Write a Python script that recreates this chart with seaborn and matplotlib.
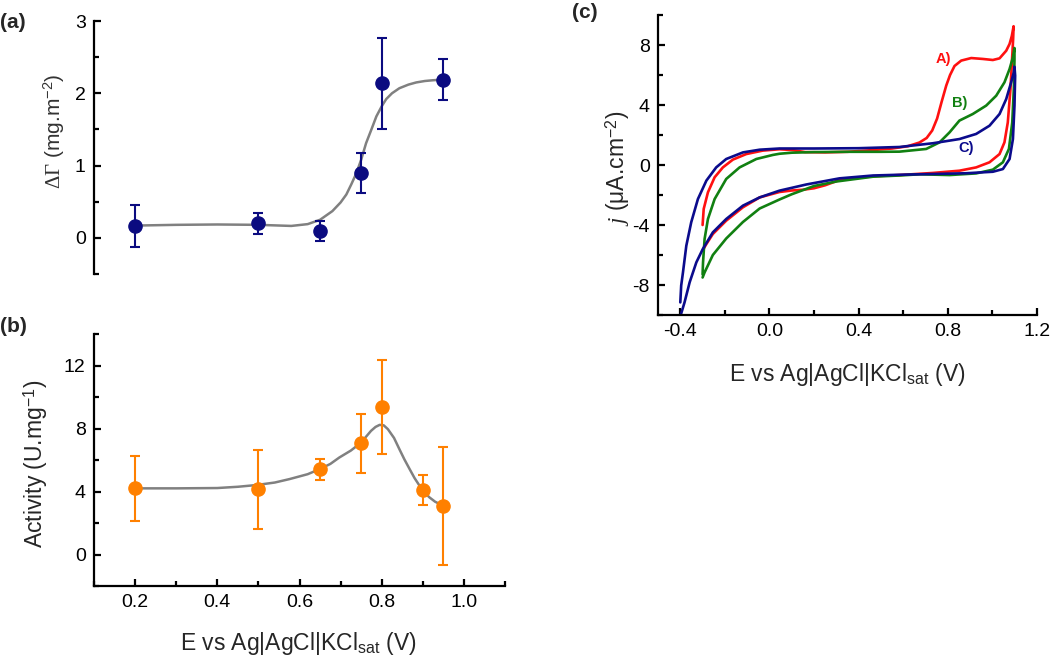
import numpy as np
import pandas as pd
import matplotlib
matplotlib.use("Agg")
import matplotlib.pyplot as plt
from matplotlib.ticker import MultipleLocator, FormatStrFormatter
import seaborn as sns

# ---------------- data ----------------
# (a) adsorbed amount vs potential
a_E = [0.2, 0.5, 0.65, 0.75, 0.8, 0.95]
a_val = [0.17, 0.20, 0.10, 0.90, 2.14, 2.19]
a_err = [0.29, 0.14, 0.14, 0.28, 0.63, 0.28]
fit_a_E = [0.2, 0.3, 0.4, 0.5, 0.58, 0.62, 0.65, 0.68, 0.70, 0.714, 0.726, 0.738, 0.75,
           0.762, 0.775, 0.787, 0.80, 0.811, 0.825, 0.843, 0.865, 0.884, 0.905, 0.924, 0.95]
fit_a_val = [0.17, 0.18, 0.185, 0.18, 0.165, 0.19, 0.25, 0.37, 0.49, 0.60, 0.74, 0.89, 1.08,
             1.31, 1.50, 1.68, 1.82, 1.92, 2.0, 2.07, 2.12, 2.15, 2.17, 2.18, 2.19]

# (b) activity vs potential
b_E = [0.2, 0.5, 0.65, 0.75, 0.8, 0.9, 0.95]
b_val = [4.2, 4.14, 5.4, 7.05, 9.35, 4.11, 3.08]
b_err = [2.06, 2.5, 0.65, 1.85, 3.0, 0.96, 3.74]
fit_b_E = [0.2, 0.3, 0.4, 0.45, 0.495, 0.54, 0.576, 0.62, 0.649, 0.675, 0.697, 0.725, 0.75,
           0.774, 0.785, 0.795, 0.805, 0.815, 0.83, 0.843, 0.855, 0.868, 0.88, 0.892,
           0.904, 0.916, 0.93, 0.941, 0.95]
fit_b_val = [4.2, 4.2, 4.22, 4.3, 4.41, 4.57, 4.79, 5.1, 5.42, 5.75, 6.16, 6.6, 7.11,
             7.85, 8.1, 8.23, 8.2, 7.96, 7.4, 6.69, 6.05, 5.42, 4.85, 4.37,
             3.95, 3.63, 3.35, 3.21, 3.1]

# (c) cyclic voltammograms
cvA_E = [-0.30, -0.295, -0.276, -0.246, -0.209, -0.164, -0.104, -0.03, 0.045, 0.10, 0.16, 0.25,
         0.35, 0.45, 0.55, 0.62, 0.673, 0.705, 0.73, 0.752, 0.772, 0.793, 0.81, 0.830, 0.860,
         0.905, 0.957, 1.002, 1.032, 1.062, 1.077, 1.087, 1.095,
         1.093, 1.089, 1.081, 1.069, 1.054, 1.032, 0.987, 0.927, 0.852, 0.733, 0.583, 0.464,
         0.314, 0.25, 0.2, 0.15, 0.10, 0.045, -0.044, -0.119, -0.194, -0.254, -0.283, -0.30]
cvA_j = [-4.0, -2.93, -1.82, -0.82, -0.16, 0.36, 0.73, 0.96, 1.05, 1.0, 0.86, 0.84,
         0.88, 0.98, 1.1, 1.25, 1.5, 1.8, 2.3, 3.1, 4.2, 5.3, 6.0, 6.6, 6.96,
         7.13, 7.07, 7.0, 7.11, 7.62, 8.07, 8.6, 9.25,
         8.4, 7.29, 5.07, 2.84, 1.51, 0.73, 0.18, -0.16, -0.38, -0.53, -0.67, -0.75,
         -1.0, -1.35, -1.55, -1.65, -1.7, -1.8, -2.16, -2.82, -3.71, -4.6, -5.27, -5.7]

cvB_E = [-0.30, -0.298, -0.291, -0.276, -0.246, -0.194, -0.134, -0.059, 0.015, 0.045, 0.10,
         0.20, 0.35, 0.50, 0.583, 0.703, 0.763, 0.808, 0.852, 0.912, 0.972, 1.017, 1.054,
         1.077, 1.092, 1.099,
         1.099, 1.096, 1.089, 1.074, 1.047, 1.002, 0.927, 0.808, 0.673, 0.583, 0.464,
         0.30, 0.20, 0.10, 0.045, -0.044, -0.119, -0.194, -0.254, -0.291, -0.30]
cvB_j = [-7.3, -6.49, -4.93, -3.6, -2.27, -0.93, -0.16, 0.4, 0.67, 0.75, 0.82,
         0.86, 0.88, 0.88, 0.89, 1.07, 1.51, 2.18, 2.96, 3.4, 3.96, 4.62, 5.51,
         6.4, 7.18, 7.8,
         7.0, 5.07, 2.84, 1.07, 0.18, -0.31, -0.56, -0.67, -0.62, -0.7, -0.78,
         -1.1, -1.4, -1.95, -2.3, -2.9, -3.8, -4.9, -6.0, -7.16, -7.5]

cvC_E = [-0.40, -0.396, -0.388, -0.373, -0.351, -0.321, -0.283, -0.239, -0.194, -0.119, -0.044,
         0.045, 0.20, 0.40, 0.583, 0.733, 0.852, 0.927, 0.987, 1.032, 1.062, 1.084, 1.096, 1.099,
         1.102, 1.099, 1.092, 1.077, 1.047, 1.002, 0.882, 0.733, 0.583, 0.464, 0.314, 0.165,
         0.045, -0.044, -0.119, -0.194, -0.254, -0.299, -0.328, -0.358, -0.381, -0.40]
cvC_j = [-9.16, -8.04, -7.16, -5.38, -3.82, -2.27, -1.04, -0.16, 0.4, 0.84, 1.02,
         1.1, 1.1, 1.12, 1.2, 1.45, 1.73, 2.07, 2.62, 3.4, 4.4, 5.51, 6.18, 6.55,
         5.96, 3.96, 1.73, 0.4, -0.27, -0.45, -0.55, -0.6, -0.65, -0.7, -0.89, -1.3,
         -1.71, -2.16, -2.71, -3.6, -4.49, -5.6, -6.49, -7.82, -9.16, -10.1]

cv_labels = ["A)", "B)", "C)"]
cv_label_E = [0.778, 0.853, 0.882]
cv_label_j = [7.1, 4.13, 1.11]

# ---------------- style ----------------
sns.set_theme(style="ticks")
plt.rcParams["font.family"] = ["Liberation Sans", "DejaVu Sans"]
plt.rcParams["axes.unicode_minus"] = False
plt.rcParams["mathtext.fontset"] = "custom"
plt.rcParams["mathtext.rm"] = "Liberation Sans"
plt.rcParams["mathtext.it"] = "Liberation Serif:italic"
plt.rcParams["mathtext.bf"] = "Liberation Sans:bold"
plt.rcParams["mathtext.sf"] = "Liberation Serif"

navy = "#0b0b80"
orange = "#ff8000"
fitgray = "#808080"
cv_colors = ["#ff1010", "#118011", "#0b0b8c"]

W, H = 1050, 661
fig = plt.figure(figsize=(W / 100, H / 100), dpi=100)


def px_axes(left, top, right, bottom):
    return fig.add_axes([left / W, 1 - bottom / H, (right - left) / W, (bottom - top) / H])


def style_axes(ax):
    for s in ["top", "right"]:
        ax.spines[s].set_visible(False)
    for s in ["left", "bottom"]:
        ax.spines[s].set_linewidth(1.6)
        ax.spines[s].set_color("black")
    ax.tick_params(which="major", direction="in", length=5, width=1.6, labelsize=14,
                   color="black", labelcolor="black", pad=6)
    ax.tick_params(which="minor", direction="in", length=3.5, width=1.6, color="black")
    ax.set_facecolor("white")


ax_a = px_axes(94, 21, 505, 274)
ax_b = px_axes(94, 334, 505, 586)
ax_c = px_axes(658, 15, 1037, 315)

# ---- (a) ----
style_axes(ax_a)
ax_a.spines["bottom"].set_visible(False)
sns.lineplot(x=fit_a_E, y=fit_a_val, ax=ax_a, color=fitgray, lw=1.8, sort=False,
             estimator=None, zorder=2)
ax_a.errorbar(a_E, a_val, yerr=a_err, fmt="o", color=navy, ms=9.5, capsize=3.8,
              elinewidth=1.5, capthick=1.5, zorder=3)
ax_a.set_xlim(0.1, 1.1)
ax_a.set_ylim(-0.5, 3)
ax_a.yaxis.set_major_locator(MultipleLocator(1))
ax_a.yaxis.set_minor_locator(MultipleLocator(0.5))
ax_a.set_xticks([])
ax_a.set_ylabel(r"$\mathsf{\Delta\Gamma}$ (mg.m$^{-2}$)", fontsize=15, color="#333333")
ax_a.yaxis.set_label_coords(-0.066, 0.565)

# ---- (b) ----
style_axes(ax_b)
sns.lineplot(x=fit_b_E, y=fit_b_val, ax=ax_b, color=fitgray, lw=1.8, sort=False,
             estimator=None, zorder=2)
ax_b.errorbar(b_E, b_val, yerr=b_err, fmt="o", color=orange, ms=9.5, capsize=3.8,
              elinewidth=1.5, capthick=1.5, zorder=3)
ax_b.set_xlim(0.1, 1.1)
ax_b.set_ylim(-2, 14)
ax_b.xaxis.set_major_locator(MultipleLocator(0.2))
ax_b.xaxis.set_minor_locator(MultipleLocator(0.1))
ax_b.yaxis.set_major_locator(MultipleLocator(4))
ax_b.yaxis.set_minor_locator(MultipleLocator(2))
ax_b.xaxis.set_major_formatter(FormatStrFormatter("%.1f"))
ax_b.set_ylabel("Activity (U.mg$^{-1}$)", fontsize=16.5)
ax_b.yaxis.set_label_coords(-0.107, 0.484)
ax_b.set_xlabel("E vs Ag|AgCl|KCl$_{\\mathrm{sat}}$ (V)", fontsize=16.5, va="center")
ax_b.xaxis.set_label_coords(0.496, -0.23)

# ---- (c) ----
style_axes(ax_c)
for E, j, c in zip([cvA_E, cvB_E, cvC_E], [cvA_j, cvB_j, cvC_j], cv_colors):
    sns.lineplot(x=E, y=j, ax=ax_c, color=c, lw=1.9, sort=False, estimator=None)
for lab, e, jj, c in zip(cv_labels, cv_label_E, cv_label_j, cv_colors):
    ax_c.text(e, jj, lab, color=c, fontsize=10.5, fontweight="bold", ha="center",
              va="center")
ax_c.set_xlim(-0.5, 1.2)
ax_c.set_ylim(-10, 10)
ax_c.xaxis.set_major_locator(MultipleLocator(0.4))
ax_c.xaxis.set_minor_locator(MultipleLocator(0.2))
ax_c.yaxis.set_major_locator(MultipleLocator(4))
ax_c.yaxis.set_minor_locator(MultipleLocator(2))
ax_c.xaxis.set_major_formatter(FormatStrFormatter("%.1f"))
ax_c.set_ylabel(r"$j$ (μA.cm$^{-2}$)", fontsize=16.5)
ax_c.yaxis.set_label_coords(-0.069, 0.49)
ax_c.set_xlabel("E vs Ag|AgCl|KCl$_{\\mathrm{sat}}$ (V)", fontsize=16.5, va="center")
ax_c.xaxis.set_label_coords(0.4987, -0.2)

# panel letters
fig.text(0 / W, 1 - 23 / H, "(a)", fontsize=15, fontweight="bold", va="center", ha="left")
fig.text(0 / W, 1 - 327 / H, "(b)", fontsize=15, fontweight="bold", va="center", ha="left")
fig.text(572 / W, 1 - 12 / H, "(c)", fontsize=15, fontweight="bold", va="center", ha="left")

fig.savefig("out.png", dpi=100, facecolor="white")
